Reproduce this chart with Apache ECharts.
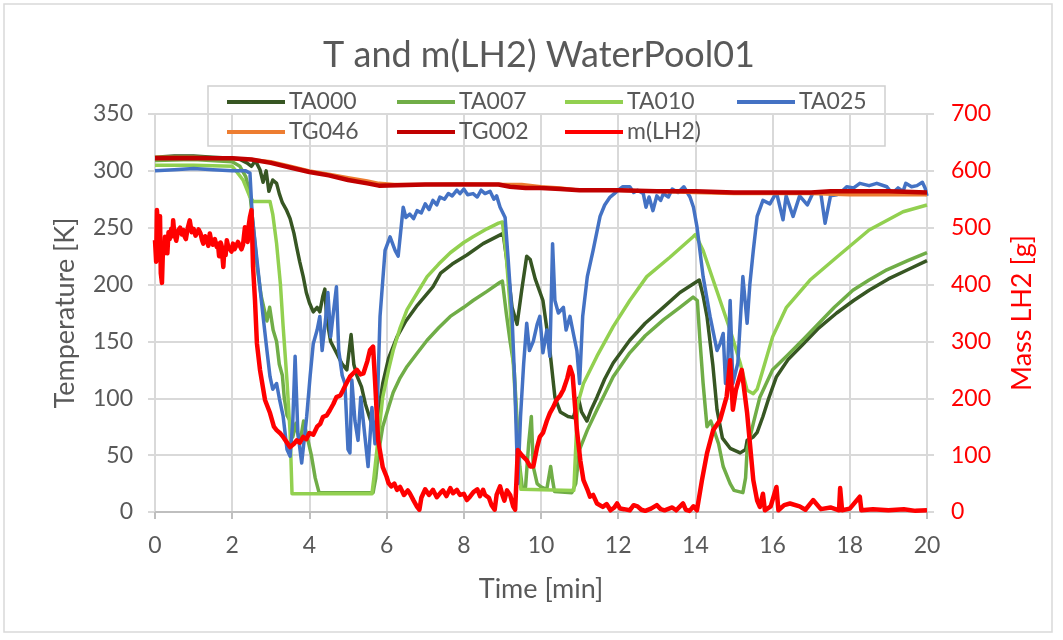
<!DOCTYPE html>
<html>
<head>
<meta charset="utf-8">
<script src="https://cdn.jsdelivr.net/npm/echarts@6/dist/echarts.min.js"></script>
<style>
  html, body { margin: 0; padding: 0; background: #ffffff; }
  #chart { width: 1063px; height: 640px; }
</style>
</head>
<body>
<div id="chart"></div>
<script>
// Time axis ticks [min]
const timeTicks = [0, 2, 4, 6, 8, 10, 12, 14, 16, 18, 20];
// Temperature axis ticks [K] and mass axis ticks [g]
const tempTicks = [0, 50, 100, 150, 200, 250, 300, 350];
const massTicks = [0, 100, 200, 300, 400, 500, 600, 700];

// Each series: [time in min, value]
const TA000 = [[0,312],[0.5,313],[1,313],[1.5,312],[2,311],[2.2,310],[2.38,307],[2.5,304],[2.6,309],[2.72,301],[2.8,290],[2.88,300],[2.95,282],[3.05,292],[3.15,289],[3.22,280],[3.3,272],[3.4,266],[3.5,258],[3.6,245],[3.67,233],[3.75,220],[3.84,207],[3.92,193],[4.0,184],[4.1,176],[4.2,180],[4.27,176],[4.35,190],[4.4,196],[4.45,170],[4.55,150],[4.7,140],[4.85,130],[4.97,125],[5.08,156],[5.15,130],[5.23,120],[5.35,110],[5.45,95],[5.57,82],[5.65,74],[5.75,72],[5.82,95],[5.9,113],[6.05,135],[6.27,154],[6.5,168],[6.8,182],[7.2,198],[7.4,210],[7.7,218],[8.08,226],[8.5,236],[9.02,245],[9.1,225],[9.25,180],[9.38,165],[9.5,195],[9.63,225],[9.72,222],[9.85,205],[10.05,186],[10.23,142],[10.36,101],[10.5,88],[10.7,84],[10.84,83],[10.97,100],[11.05,88],[11.19,80],[11.3,90],[11.45,101],[11.65,117],[11.87,131],[12.3,151],[12.7,166],[13.17,180],[13.6,193],[14.1,204],[14.2,190],[14.3,172],[14.45,130],[14.56,90],[14.7,65],[14.9,56],[15.16,52],[15.3,55],[15.34,63],[15.5,66],[15.6,70],[15.75,84],[15.9,100],[16.1,119],[16.4,134],[16.8,148],[17.2,162],[17.66,175],[18.1,186],[18.5,195],[19,205],[19.5,213],[20,221]];

const TA007 = [[0,309],[1,310],[2,308],[2.2,304],[2.35,295],[2.46,280],[2.55,250],[2.65,215],[2.75,190],[2.85,175],[2.9,168],[2.97,180],[3.06,160],[3.15,150],[3.22,130],[3.3,120],[3.35,100],[3.42,85],[3.5,80],[3.57,66],[3.65,78],[3.75,60],[3.85,80],[3.95,65],[4.05,50],[4.15,30],[4.25,17],[5,17],[5.65,17],[5.72,30],[5.78,50],[5.9,75],[6.05,92],[6.17,105],[6.35,118],[6.53,128],[6.8,140],[7.05,151],[7.35,162],[7.65,172],[8.0,180],[8.24,186],[8.6,194],[8.94,202],[9.0,203],[9.1,175],[9.2,150],[9.3,128],[9.38,80],[9.45,40],[9.52,20],[9.6,22],[9.68,60],[9.75,84],[9.8,40],[9.9,25],[10.0,22],[10.15,20],[10.25,40],[10.3,28],[10.35,18],[10.8,17],[10.9,25],[11.0,55],[11.2,72],[11.45,90],[11.87,119],[12.3,140],[12.7,155],[13.17,169],[13.6,180],[13.94,189],[14.05,186],[14.12,150],[14.2,113],[14.3,75],[14.4,80],[14.5,70],[14.6,60],[14.72,40],[14.9,25],[15.0,19],[15.23,17],[15.3,30],[15.34,55],[15.5,78],[15.67,101],[16.0,125],[16.36,137],[16.8,152],[17.2,166],[17.6,180],[18.08,195],[18.5,204],[18.96,213],[19.5,221],[20,228]];

const TA010 = [[0,305],[1,305],[2,304],[2.1,300],[2.28,292],[2.4,282],[2.46,277],[2.55,273],[2.98,273],[3.05,262],[3.15,236],[3.25,200],[3.32,163],[3.42,115],[3.5,70],[3.55,16],[5.62,16],[5.67,30],[5.75,55],[5.9,101],[6.05,125],[6.17,142],[6.35,162],[6.53,178],[6.8,193],[7.05,207],[7.35,218],[7.65,228],[8.0,237],[8.24,242],[8.6,249],[8.9,254],[9.0,255],[9.1,225],[9.2,180],[9.3,120],[9.4,60],[9.48,20],[10.85,19],[10.95,95],[11.1,113],[11.45,137],[11.87,163],[12.3,186],[12.74,207],[13.34,224],[13.94,242],[14.0,244],[14.2,230],[14.55,195],[14.9,160],[15.16,131],[15.34,107],[15.5,104],[15.6,108],[15.75,125],[16.0,154],[16.36,180],[16.97,204],[17.66,224],[18.5,248],[19.38,264],[20,270]];

const TA025 = [[0,300],[0.5,301],[1,302],[1.5,301],[2,300],[2.35,300],[2.46,298],[2.52,260],[2.64,222],[2.8,172],[2.9,142],[2.98,119],[3.05,108],[3.15,113],[3.22,100],[3.32,84],[3.42,55],[3.5,49],[3.57,80],[3.63,137],[3.7,70],[3.8,43],[3.93,84],[4.02,120],[4.1,148],[4.2,160],[4.27,172],[4.33,142],[4.42,170],[4.48,193],[4.55,154],[4.62,175],[4.7,198],[4.76,142],[4.85,120],[4.92,113],[5.0,55],[5.05,52],[5.1,116],[5.18,80],[5.26,63],[5.33,101],[5.44,66],[5.52,40],[5.62,92],[5.7,60],[5.75,84],[5.83,172],[5.96,230],[6.09,242],[6.22,230],[6.3,225],[6.43,268],[6.5,259],[6.6,262],[6.7,258],[6.79,265],[6.9,263],[7.0,271],[7.1,266],[7.2,274],[7.3,270],[7.38,277],[7.5,275],[7.6,280],[7.7,278],[7.82,283],[7.9,280],[8.0,284],[8.1,279],[8.24,280],[8.35,277],[8.45,283],[8.55,280],[8.68,282],[8.78,275],[8.85,278],[8.94,268],[9.07,259],[9.15,222],[9.25,172],[9.32,113],[9.4,25],[9.47,84],[9.55,130],[9.63,166],[9.7,142],[9.8,150],[9.9,165],[9.97,172],[10.05,140],[10.15,160],[10.23,137],[10.3,236],[10.36,186],[10.45,175],[10.58,180],[10.65,160],[10.75,172],[10.85,155],[10.93,142],[11.0,113],[11.08,172],[11.2,207],[11.35,230],[11.53,260],[11.65,270],[11.79,277],[11.9,280],[12.0,283],[12.12,286],[12.3,286],[12.4,281],[12.5,283],[12.65,280],[12.72,268],[12.8,277],[12.9,265],[13.0,278],[13.1,274],[13.17,280],[13.3,277],[13.4,284],[13.55,281],[13.7,286],[13.86,277],[13.95,268],[14.04,251],[14.2,207],[14.38,172],[14.56,142],[14.64,148],[14.72,157],[14.78,113],[14.84,131],[14.9,186],[14.97,113],[15.1,131],[15.23,207],[15.34,166],[15.41,200],[15.5,230],[15.6,260],[15.75,274],[15.93,271],[16.1,281],[16.27,257],[16.35,278],[16.53,260],[16.7,278],[16.9,270],[17.05,281],[17.25,280],[17.36,254],[17.5,278],[17.66,279],[17.8,282],[17.92,286],[18.1,285],[18.26,289],[18.5,287],[18.7,289],[18.96,286],[19.1,280],[19.25,285],[19.38,282],[19.45,289],[19.6,286],[19.74,287],[19.88,290],[19.95,285],[20,278]];

const TG046 = [[0,312],[1,312],[2,311],[2.5,310],[3,308],[3.5,304],[4,300],[4.5,297],[5,294],[5.5,291],[5.8,289],[6.2,288],[7,288],[8,288.5],[9,288],[9.5,288],[10,286],[10.5,285],[11,283],[12,283],[13,282],[14,281],[15,280],[16,280],[17,280],[18,279],[19,279],[20,279]];

const TG002 = [[0,311],[1,311],[2,311],[2.5,310],[3,307],[3.5,303],[4,299],[4.5,296],[5,292],[5.5,289],[5.8,287],[7,288],[8,288],[8.9,288],[9.2,286],[9.6,285],[10,285],[10.5,284],[11,283],[12,283],[13,282],[14,282],[15,281],[16,281],[17,281],[17.5,282],[18,282],[19,282],[20,281]];

const mLH2 = [[0,478],[0.03,440],[0.05,531],[0.08,500],[0.1,461],[0.13,520],[0.15,420],[0.18,403],[0.21,470],[0.24,455],[0.26,484],[0.29,470],[0.32,455],[0.35,492],[0.38,480],[0.42,498],[0.45,485],[0.47,513],[0.5,490],[0.55,477],[0.6,495],[0.65,500],[0.7,488],[0.73,496],[0.77,484],[0.8,480],[0.85,500],[0.9,513],[0.95,492],[1.0,498],[1.05,486],[1.09,484],[1.13,497],[1.18,490],[1.22,478],[1.25,472],[1.3,485],[1.35,478],[1.38,468],[1.42,490],[1.46,476],[1.5,470],[1.55,480],[1.6,466],[1.63,472],[1.66,450],[1.7,474],[1.72,470],[1.77,431],[1.8,465],[1.83,452],[1.86,478],[1.9,466],[1.95,468],[1.98,458],[2.02,472],[2.06,462],[2.1,460],[2.15,475],[2.2,478],[2.24,462],[2.28,470],[2.33,501],[2.37,480],[2.4,475],[2.43,505],[2.46,519],[2.5,531],[2.54,431],[2.59,373],[2.64,297],[2.72,250],[2.85,197],[2.98,174],[3.08,150],[3.15,144],[3.25,138],[3.32,132],[3.42,122],[3.5,114],[3.6,120],[3.67,126],[3.75,122],[3.84,132],[3.92,128],[4.0,139],[4.1,136],[4.2,150],[4.28,155],[4.35,167],[4.45,170],[4.53,179],[4.62,190],[4.7,202],[4.8,205],[4.87,214],[4.95,225],[5.05,238],[5.15,245],[5.23,250],[5.32,242],[5.4,244],[5.5,265],[5.57,285],[5.65,291],[5.7,232],[5.78,127],[5.9,79],[6.0,62],[6.05,51],[6.12,45],[6.2,50],[6.27,39],[6.35,44],[6.45,30],[6.55,38],[6.6,33],[6.7,20],[6.79,9],[6.85,4],[6.9,25],[6.95,27],[7.0,40],[7.1,30],[7.2,39],[7.3,26],[7.4,34],[7.46,38],[7.55,28],[7.65,42],[7.72,33],[7.82,39],[7.9,30],[8.0,32],[8.08,21],[8.16,27],[8.25,35],[8.35,40],[8.42,28],[8.5,39],[8.55,30],[8.65,25],[8.72,12],[8.8,4],[8.85,30],[8.94,45],[9.0,30],[9.05,20],[9.12,38],[9.2,30],[9.28,10],[9.33,4],[9.4,109],[9.5,100],[9.63,91],[9.72,80],[9.8,80],[9.9,114],[9.97,132],[10.05,139],[10.15,160],[10.23,174],[10.32,185],[10.4,197],[10.5,205],[10.58,215],[10.68,235],[10.75,255],[10.82,240],[10.93,144],[11.02,90],[11.1,56],[11.2,40],[11.27,27],[11.35,30],[11.45,15],[11.6,9],[11.7,14],[11.8,3],[11.9,8],[11.97,15],[12.05,6],[12.15,5],[12.3,3],[12.4,12],[12.5,10],[12.6,4],[12.7,2],[12.85,6],[13.0,12],[13.1,5],[13.2,3],[13.4,8],[13.5,3],[13.68,15],[13.75,4],[13.85,2],[13.95,10],[14.04,3],[14.17,56],[14.3,103],[14.46,144],[14.64,162],[14.81,203],[14.9,267],[14.97,180],[15.05,215],[15.2,250],[15.34,174],[15.5,56],[15.6,20],[15.67,9],[15.75,32],[15.8,3],[15.95,10],[16.1,44],[16.15,3],[16.3,12],[16.45,15],[16.7,10],[16.85,4],[17.05,21],[17.25,5],[17.5,8],[17.72,3],[17.75,42],[17.8,3],[18.0,6],[18.26,27],[18.3,3],[18.6,5],[19.0,3],[19.4,5],[19.7,2],[20,3]];

const FONT = 'Lato, "Open Sans", sans-serif';
const GRID_COLOR = '#d9d9d9';
const TEXT_COLOR = '#595959';

const seriesDefs = [
  { name: 'TA000', data: TA000, color: '#375623', width: 3.5, axis: 0 },
  { name: 'TA007', data: TA007, color: '#70ad47', width: 3.5, axis: 0 },
  { name: 'TA010', data: TA010, color: '#92d050', width: 3.5, axis: 0 },
  { name: 'TA025', data: TA025, color: '#4472c4', width: 3.5, axis: 0 },
  { name: 'TG046', data: TG046, color: '#ed7d31', width: 3.5, axis: 0 },
  { name: 'TG002', data: TG002, color: '#c00000', width: 4.5, axis: 0 },
  { name: 'm(LH2)', data: mLH2, color: '#ff0000', width: 4.5, axis: 1 }
];

// Legend entries placed in two rows, four columns
const legendSlots = [
  { left: 225, top: 90 }, { left: 395, top: 90 }, { left: 563, top: 90 }, { left: 735, top: 90 },
  { left: 225, top: 120 }, { left: 395, top: 120 }, { left: 563, top: 120 }
];

const legends = seriesDefs.map((s, i) => ({
  data: [s.name],
  left: legendSlots[i].left,
  top: legendSlots[i].top,
  padding: 0,
  itemWidth: 58,
  itemHeight: 4,
  itemGap: 0,
  selectedMode: false,
  lineStyle: { width: 4 },
  textStyle: { fontFamily: FONT, fontSize: 23, color: TEXT_COLOR, lineHeight: 24, padding: [0, 0, 0, -1] }
}));

const chart = echarts.init(document.getElementById('chart'), null, { renderer: 'canvas' });

chart.setOption({
  animation: false,
  backgroundColor: '#ffffff',
  graphic: [
    {
      type: 'rect',
      shape: { x: 4, y: 4, width: 1048, height: 628 },
      style: { fill: 'none', stroke: '#d9d9d9', lineWidth: 1.5 },
      silent: true
    },
    {
      type: 'text',
      x: 539, y: 55,
      style: {
        text: 'T and m(LH2) WaterPool01',
        font: '36px ' + FONT,
        fill: TEXT_COLOR,
        textAlign: 'center',
        textVerticalAlign: 'middle'
      },
      silent: true
    },
    {
      type: 'rect',
      shape: { x: 208, y: 86, width: 677, height: 60 },
      style: { fill: '#ffffff', stroke: '#d0d0d0', lineWidth: 1.5 },
      z: -1,
      silent: true
    }
  ],
  legend: legends,
  grid: { left: 155, right: 136, top: 114, bottom: 128, containLabel: false },
  xAxis: {
    type: 'value',
    min: timeTicks[0],
    max: timeTicks[timeTicks.length - 1],
    interval: 2,
    name: 'Time [min]',
    nameLocation: 'middle',
    nameGap: 64,
    nameTextStyle: { fontFamily: FONT, fontSize: 27, color: TEXT_COLOR },
    axisLine: { show: true, onZero: false, lineStyle: { color: '#bfbfbf', width: 2 } },
    axisTick: { show: true, inside: false, length: 7, lineStyle: { color: '#bfbfbf', width: 2 } },
    axisLabel: { fontFamily: FONT, fontSize: 23, color: TEXT_COLOR, margin: 22 },
    splitLine: { show: true, lineStyle: { color: GRID_COLOR, width: 2 } }
  },
  yAxis: [
    {
      type: 'value',
      min: tempTicks[0],
      max: tempTicks[tempTicks.length - 1],
      interval: 50,
      name: 'Temperature [K]',
      nameLocation: 'middle',
      nameRotate: 90,
      nameGap: 76,
      nameTextStyle: { fontFamily: FONT, fontSize: 27, color: TEXT_COLOR },
      axisLine: { show: false },
      axisTick: { show: true, inside: false, length: 7, lineStyle: { color: GRID_COLOR, width: 2 } },
      axisLabel: { fontFamily: FONT, fontSize: 23, color: TEXT_COLOR, margin: 22 },
      splitLine: { show: true, lineStyle: { color: GRID_COLOR, width: 2 } }
    },
    {
      type: 'value',
      position: 'right',
      min: massTicks[0],
      max: massTicks[massTicks.length - 1],
      interval: 100,
      name: 'Mass LH2 [g]',
      nameLocation: 'middle',
      nameRotate: 90,
      nameGap: 82,
      nameTextStyle: { fontFamily: FONT, fontSize: 27, color: '#ff0000' },
      axisLine: { show: false },
      axisTick: { show: true, inside: false, length: 7, lineStyle: { color: GRID_COLOR, width: 2 } },
      axisLabel: { fontFamily: FONT, fontSize: 23, color: '#ff0000', margin: 24 },
      splitLine: { show: false }
    }
  ],
  series: seriesDefs.map(s => ({
    name: s.name,
    type: 'line',
    yAxisIndex: s.axis,
    data: s.data,
    symbol: 'none',
    showSymbol: false,
    smooth: false,
    color: s.color,
    lineStyle: { color: s.color, width: s.width, join: 'round' },
    emphasis: { disabled: true }
  }))
});
</script>
</body>
</html>
